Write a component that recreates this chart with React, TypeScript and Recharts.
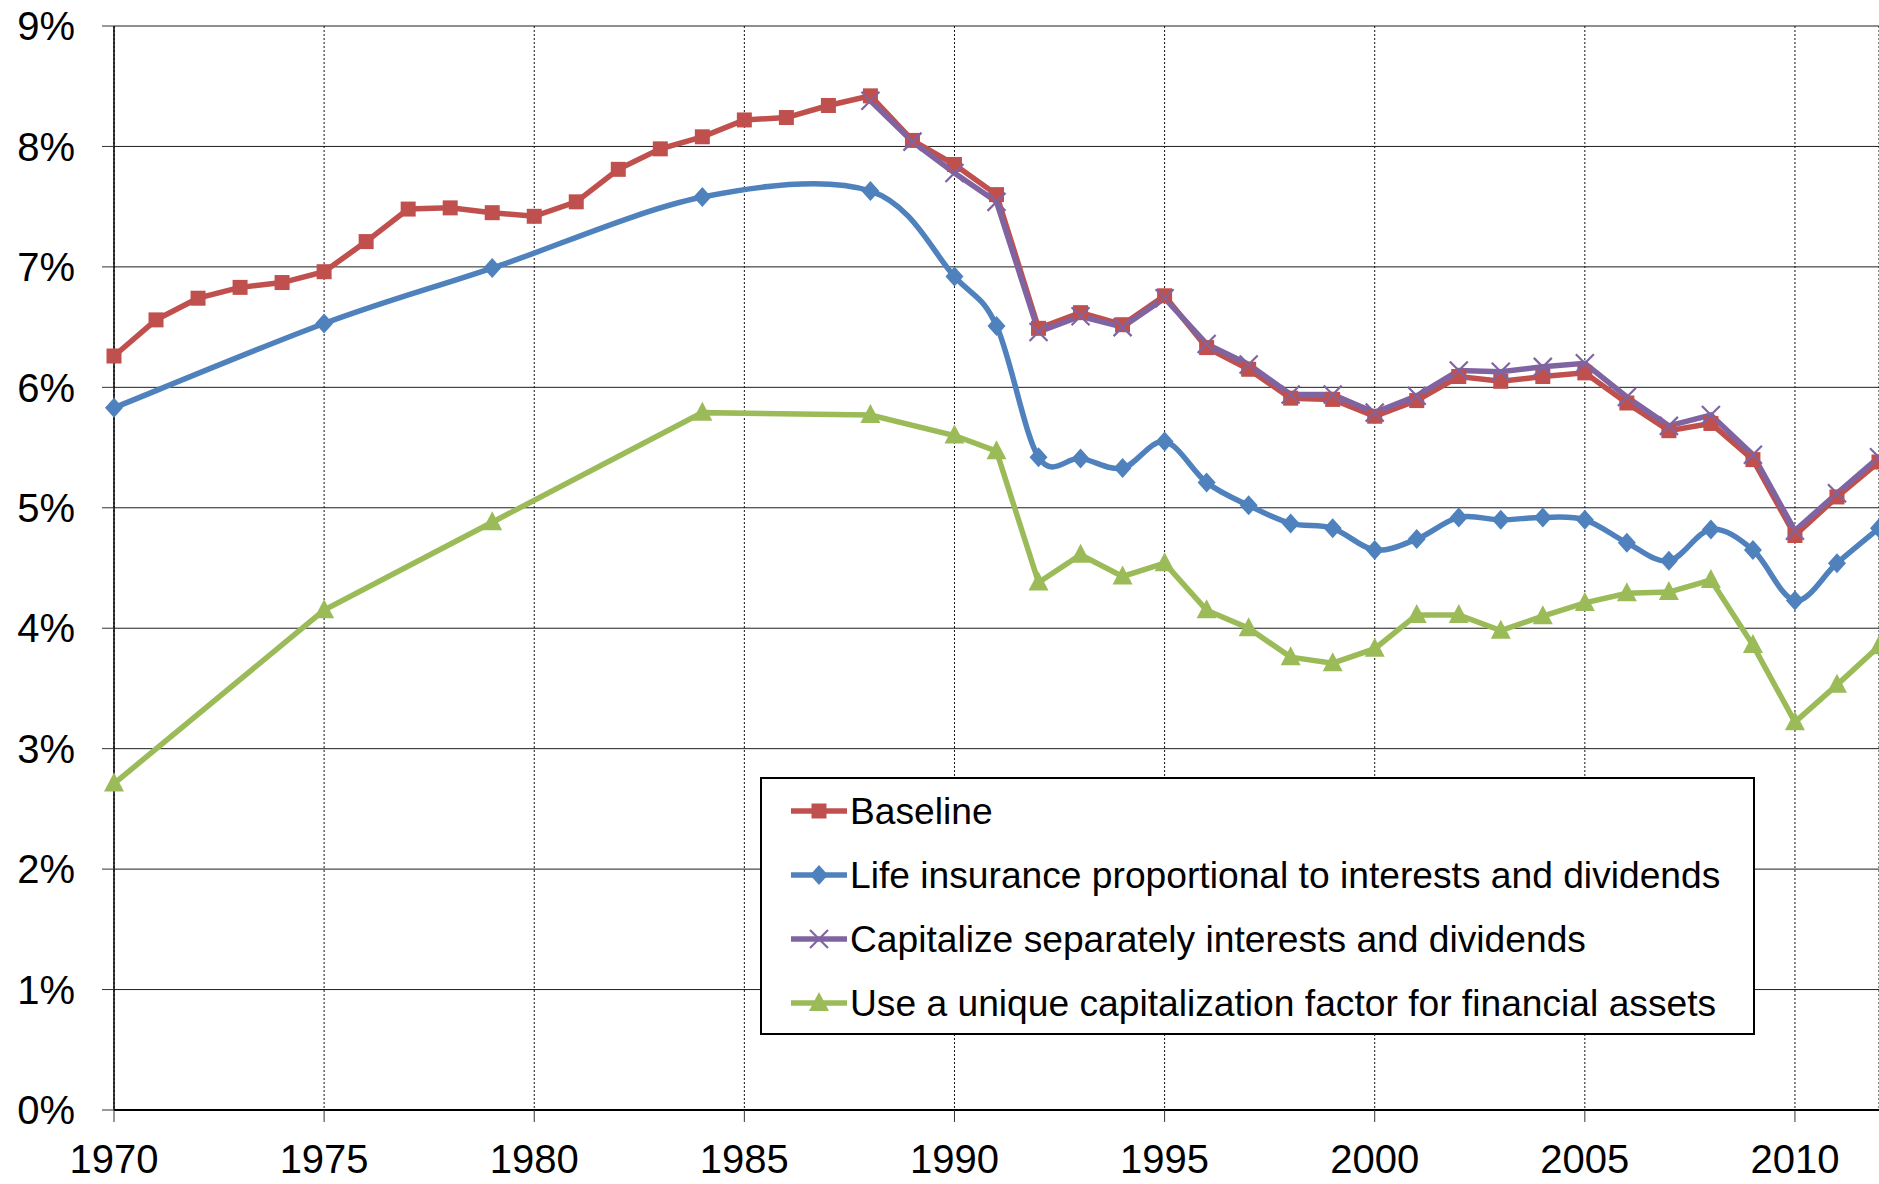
import React from 'react'
import { CartesianGrid, Legend, Line, LineChart, XAxis, YAxis } from 'recharts'

const FONT = "'Liberation Sans', Arial, sans-serif"

const years = [
  1970, 1971, 1972, 1973, 1974, 1975, 1976, 1977, 1978, 1979, 1980, 1981, 1982, 1983, 1984,
  1985, 1986, 1987, 1988, 1989, 1990, 1991, 1992, 1993, 1994, 1995, 1996, 1997, 1998, 1999,
  2000, 2001, 2002, 2003, 2004, 2005, 2006, 2007, 2008, 2009, 2010, 2011, 2012,
]
const baseline = [
  6.26, 6.56, 6.74, 6.83, 6.87, 6.96, 7.21, 7.48, 7.49, 7.45, 7.42, 7.54, 7.81, 7.98, 8.08,
  8.22, 8.24, 8.34, 8.42, 8.05, 7.85, 7.6, 6.49, 6.62, 6.52, 6.76, 6.33, 6.15, 5.91, 5.9,
  5.76, 5.89, 6.09, 6.05, 6.09, 6.12, 5.87, 5.64, 5.7, 5.4, 4.77, 5.09, 5.38,
]

// life insurance + unique factor series share these years
const sparseYears = [
  1970, 1975, 1979, 1984, 1988, 1990, 1991, 1992, 1993, 1994, 1995, 1996, 1997, 1998, 1999,
  2000, 2001, 2002, 2003, 2004, 2005, 2006, 2007, 2008, 2009, 2010, 2011, 2012,
]
const lifeInsurance = [
  5.83, 6.53, 6.99, 7.58, 7.63, 6.92, 6.51, 5.42, 5.41, 5.33, 5.55, 5.21, 5.02, 4.87, 4.83,
  4.65, 4.74, 4.92, 4.9, 4.92, 4.9, 4.71, 4.56, 4.82, 4.65, 4.23, 4.54, 4.83,
]
const uniqueFactor = [
  2.71, 4.15, 4.88, 5.79, 5.77, 5.6, 5.47, 4.38, 4.61, 4.43, 4.54, 4.15, 4.0, 3.76, 3.71,
  3.83, 4.11, 4.11, 3.98, 4.1, 4.21, 4.29, 4.3, 4.4, 3.86, 3.22, 3.53, 3.85,
]

const capYears = [
  1988, 1989, 1990, 1991, 1992, 1993, 1994, 1995, 1996, 1997, 1998, 1999, 2000, 2001, 2002,
  2003, 2004, 2005, 2006, 2007, 2008, 2009, 2010, 2011, 2012,
]
const capSeparately = [
  8.38, 8.04, 7.78, 7.54, 6.46, 6.59, 6.5, 6.74, 6.36, 6.19, 5.94, 5.94, 5.79, 5.93, 6.14,
  6.13, 6.17, 6.2, 5.92, 5.68, 5.77, 5.44, 4.81, 5.12, 5.42,
]

const xTicks = [1970, 1975, 1980, 1985, 1990, 1995, 2000, 2005, 2010]
const yTicks = [0, 1, 2, 3, 4, 5, 6, 7, 8, 9]

const rows = years.map((year, i) => {
  const s = sparseYears.indexOf(year)
  const c = capYears.indexOf(year)
  return {
    year,
    baseline: baseline[i],
    life: s >= 0 ? lifeInsurance[s] : null,
    cap: c >= 0 ? capSeparately[c] : null,
    unique: s >= 0 ? uniqueFactor[s] : null,
  }
})

const RED = '#C0504D'
const BLUE = '#4F81BD'
const PURPLE = '#8064A2'
const GREEN = '#9BBB59'
const LINE_W = 5.5

// Excel-style smoothed line (bezier through points, 1/6 tangents)
function excelSmooth(context: any) {
  let pts: number[][] = []
  return {
    areaStart() {},
    areaEnd() {},
    lineStart() {
      pts = []
    },
    lineEnd() {
      if (!pts.length) return
      context.moveTo(pts[0][0], pts[0][1])
      for (let i = 0; i < pts.length - 1; i++) {
        const p0 = pts[i - 1] || pts[i]
        const p1 = pts[i]
        const p2 = pts[i + 1]
        const p3 = pts[i + 2] || p2
        context.bezierCurveTo(
          p1[0] + (p2[0] - p0[0]) / 6,
          p1[1] + (p2[1] - p0[1]) / 6,
          p2[0] - (p3[0] - p1[0]) / 6,
          p2[1] - (p3[1] - p1[1]) / 6,
          p2[0],
          p2[1],
        )
      }
    },
    point(x: number, y: number) {
      pts.push([+x, +y])
    },
  }
}

function Marker({ kind, cx, cy }: { kind: string; cx: number; cy: number }) {
  if (kind === 'square') {
    return <rect x={cx - 7.5} y={cy - 7.5} width={15} height={15} fill={RED} />
  }
  if (kind === 'diamond') {
    return (
      <polygon points={`${cx},${cy - 10} ${cx + 9},${cy} ${cx},${cy + 10} ${cx - 9},${cy}`} fill={BLUE} />
    )
  }
  if (kind === 'triangle') {
    return (
      <polygon points={`${cx},${cy - 11} ${cx + 10},${cy + 8} ${cx - 10},${cy + 8}`} fill={GREEN} />
    )
  }
  return (
    <g stroke={PURPLE} strokeWidth={2.2}>
      <line x1={cx - 9} y1={cy - 9} x2={cx + 9} y2={cy + 9} />
      <line x1={cx - 9} y1={cy + 9} x2={cx + 9} y2={cy - 9} />
    </g>
  )
}

const makeDot = (kind: string) => (props: any) => {
  const { cx, cy, value, index } = props
  if (cx == null || cy == null || value == null) return <g key={`${kind}-${index}`} />
  return (
    <g key={`${kind}-${index}`}>
      <Marker kind={kind} cx={cx} cy={cy} />
    </g>
  )
}

const legendItems = [
  { label: 'Baseline', color: RED, kind: 'square' },
  { label: 'Life insurance proportional to interests and dividends', color: BLUE, kind: 'diamond' },
  { label: 'Capitalize separately interests and dividends', color: PURPLE, kind: 'cross' },
  { label: 'Use a unique capitalization factor for financial assets', color: GREEN, kind: 'triangle' },
]

function LegendBox() {
  return (
    <div
      style={{
        boxSizing: 'border-box',
        width: 995,
        height: 258,
        border: '2px solid #000',
        background: '#fff',
        fontFamily: FONT,
        fontSize: 37.2,
        color: '#000',
      }}
    >
      {legendItems.map((item) => (
        <div key={item.label} style={{ height: 64, display: 'flex', alignItems: 'center' }}>
          <svg width={58} height={24} style={{ marginLeft: 29, flex: 'none' }}>
            <line x1={0} y1={12} x2={56} y2={12} stroke={item.color} strokeWidth={LINE_W} />
            <Marker kind={item.kind} cx={28} cy={12} />
          </svg>
          <span style={{ marginLeft: 1, whiteSpace: 'nowrap' }}>{item.label}</span>
        </div>
      ))}
    </div>
  )
}

export default function App() {
  const tick = { fill: '#000', fontSize: 40, fontFamily: FONT }
  return (
    <div style={{ position: 'absolute', left: 0, top: 0, background: '#fff' }}>
      <LineChart width={1879} height={1184} data={rows} margin={{ top: 26, right: 0, bottom: 0, left: 0 }}>
        <CartesianGrid vertical={false} stroke="#1e1e1e" strokeWidth={1} />
        <CartesianGrid horizontal={false} stroke="#111" strokeDasharray="2 2" strokeWidth={1} />
        <XAxis
          dataKey="year"
          type="number"
          domain={[1970, 2012]}
          ticks={xTicks}
          interval={0}
          height={74}
          tickSize={12}
          tickMargin={23}
          tick={tick}
          axisLine={{ stroke: '#000', strokeWidth: 2 }}
          tickLine={{ stroke: '#333' }}
        />
        <YAxis
          domain={[0, 9]}
          ticks={yTicks}
          interval={0}
          width={114}
          tickSize={12}
          tickMargin={27}
          tick={tick}
          tickFormatter={(v: number) => `${v}%`}
          axisLine={{ stroke: '#000', strokeWidth: 1.5 }}
          tickLine={{ stroke: '#333' }}
        />
        <Line
          dataKey="baseline"
          type="linear"
          stroke={RED}
          strokeWidth={LINE_W}
          dot={makeDot('square')}
          isAnimationActive={false}
        />
        <Line
          dataKey="life"
          type={excelSmooth as any}
          connectNulls
          stroke={BLUE}
          strokeWidth={LINE_W}
          dot={makeDot('diamond')}
          isAnimationActive={false}
        />
        <Line
          dataKey="cap"
          type="linear"
          connectNulls
          stroke={PURPLE}
          strokeWidth={LINE_W}
          dot={makeDot('cross')}
          isAnimationActive={false}
        />
        <Line
          dataKey="unique"
          type="linear"
          connectNulls
          stroke={GREEN}
          strokeWidth={LINE_W}
          dot={makeDot('triangle')}
          isAnimationActive={false}
        />
        <Legend
          layout="horizontal"
          verticalAlign="middle"
          align="center"
          wrapperStyle={{ left: 760, top: 777, width: 995, height: 258 }}
          content={() => <LegendBox />}
        />
      </LineChart>
    </div>
  )
}
